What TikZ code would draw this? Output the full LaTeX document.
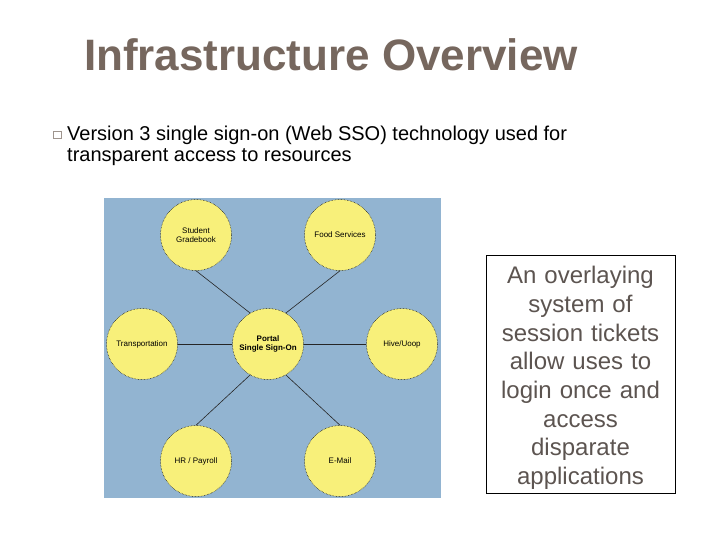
\documentclass[tikz,border=0pt]{standalone}
\usepackage{fontspec}
\setmainfont{Liberation Sans}
\usetikzlibrary{positioning}
\definecolor{titlebrown}{RGB}{118,103,94}
\definecolor{panelblue}{RGB}{146,180,209}
\definecolor{bubbleyellow}{RGB}{248,240,122}
\definecolor{notegray}{RGB}{92,84,80}
\tikzset{
  app/.style={circle, fill=bubbleyellow, draw=black, densely dotted, line width=0.5pt,
    minimum size=71pt, inner sep=0pt, align=center, font=\fontsize{8}{9}\selectfont},
  link/.style={draw=black!85, line width=0.6pt}
}

\begin{document}
\begin{tikzpicture}[x=1pt,y=-1pt]
        \useasboundingbox (0,0) rectangle (720,540);
        % Title
        \node[anchor=base, text=titlebrown, font=\fontsize{44}{48}\selectfont\bfseries] (title) at (331,71) {Infrastructure Overview};
        % Bullet text
        \node[draw=titlebrown!70, line width=0.5pt, minimum size=7.5pt, inner sep=0pt] (bullet) at (57,135) {};
        \node[anchor=base west, font=\fontsize{20}{22}\selectfont, inner sep=0pt] (line1) at (67,141) {Version 3 single sign-on (Web SSO) technology used for};
        \node[anchor=base west, font=\fontsize{20}{22}\selectfont, inner sep=0pt] (line2) at (67,162) {transparent access to resources};
        % The diagram panel
        \fill[panelblue] (104,198) rectangle (441,498);
        \node[app] (stu) at (196,235) {Student\\Gradebook};
        \node[app] (food) at (340,235) {Food Services};
        \node[app] (trans) at (142,344) {Transportation};
        \node[app, font=\fontsize{8}{9}\selectfont\bfseries] (portal) at (268,344) {Portal\\Single Sign-On};
        \node[app] (hive) at (402,344) {Hive/Uoop};
        \node[app] (hr) at (196,461) {HR / Payroll};
        \node[app] (mail) at (340,461) {E-Mail};
        % Links to the portal
        \draw[link] (stu.south) -- (portal.120);
        \draw[link] (food.south) -- (portal.60);
        \draw[link] (trans.east) -- (portal.west);
        \draw[link] (hive.west) -- (portal.east);
        \draw[link] (hr.north) -- (portal.240);
        \draw[link] (mail.north) -- (portal.300);
        % Side note
        \node[draw=black, line width=0.8pt, minimum width=189pt, minimum height=238pt] (note) at (580.5,374) {};
        \node[text width=185pt, align=center, text=notegray, font=\fontsize{24}{28.7}\selectfont] (notetext) at (580.5,378)
              {An overlaying\\system of\\session tickets\\allow uses to\\login once and\\access\\disparate\\applications};
      \end{tikzpicture}
\end{document}
